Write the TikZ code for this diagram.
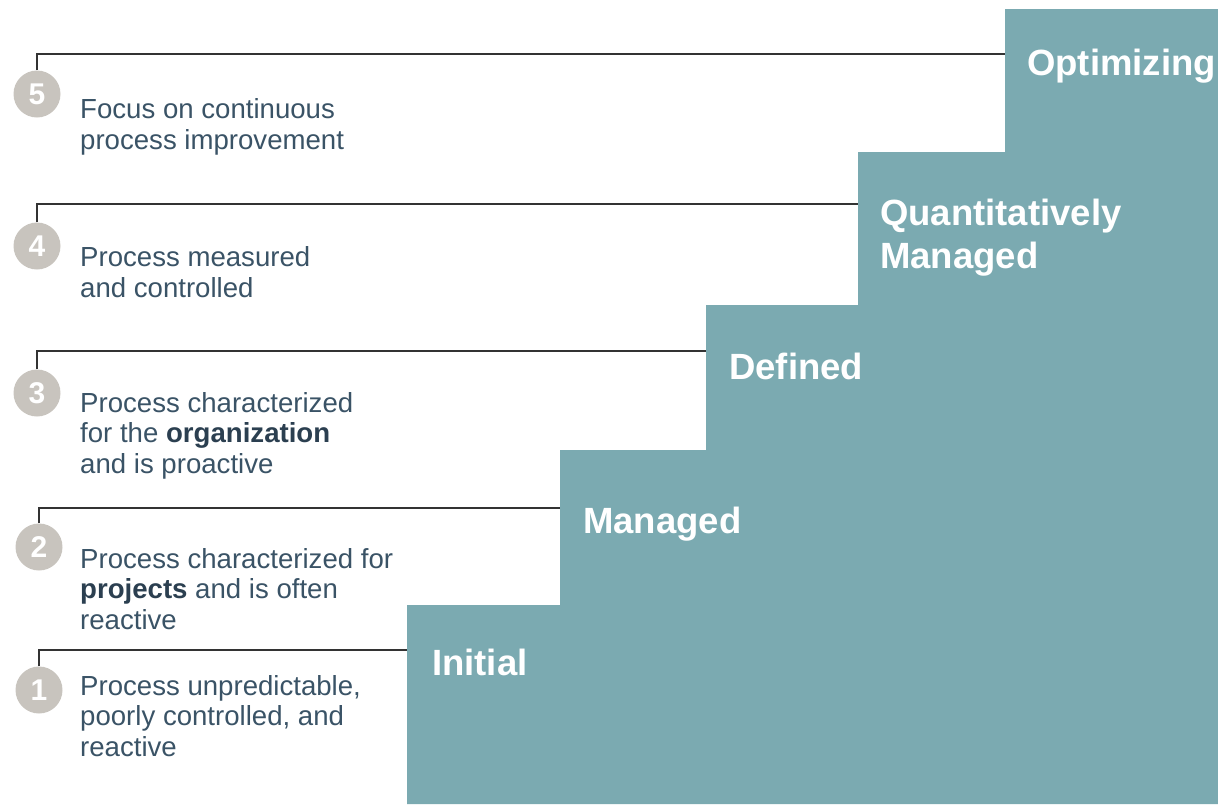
\documentclass[tikz,border=0pt]{standalone}
\usepackage{fontspec}
\setmainfont{Liberation Sans}
\definecolor{stepteal}{HTML}{7BAAB1}
\definecolor{circgrey}{HTML}{C8C4BE}
\definecolor{desctext}{HTML}{3A5366}
\definecolor{descbold}{HTML}{2B3F50}
\definecolor{linegrey}{HTML}{333333}
\tikzset{
  numcirc/.style={circle, fill=circgrey, minimum size=47pt, inner sep=0pt,
    text=white, font=\fontsize{30}{30}\selectfont\bfseries},
  desc/.style={anchor=base west, align=left, inner sep=0pt, text=desctext,
    font=\fontsize{27.6}{30.5}\selectfont},
  steplabel/.style={anchor=base west, align=left, inner sep=0pt, text=white,
    font=\fontsize{36.5}{43}\selectfont\bfseries},
  leader/.style={draw=linegrey, line width=2pt},
}
\begin{document}
\begin{tikzpicture}[x=1pt,y=-1pt]
\useasboundingbox (0,0) rectangle (1218,804);
% staircase
\fill[stepteal] (407,804) -- (407,605) -- (560,605) -- (560,450) -- (706,450)
  -- (706,305) -- (858,305) -- (858,152) -- (1005,152) -- (1005,9)
  -- (1218,9) -- (1218,804) -- cycle;
% step corner coordinates
\coordinate (s5) at (1005,54);
\coordinate (s4) at (858,204);
\coordinate (s3) at (706,351);
\coordinate (s2) at (560,508);
\coordinate (s1) at (407,650);
% circles
\node[numcirc] (c5) at (37,94) {5};
\node[numcirc] (c4) at (37,246) {4};
\node[numcirc] (c3) at (37,393) {3};
\node[numcirc] (c2) at (39,547) {2};
\node[numcirc] (c1) at (39,690) {1};
% leaders
\draw[leader] (c5.north) |- (s5);
\draw[leader] (c4.north) |- (s4);
\draw[leader] (c3.north) |- (s3);
\draw[leader] (c2.north) |- (s2);
\draw[leader] (c1.north) |- (s1);
% step labels (base = baseline of last line)
\node[steplabel] (l5) at (1027,75) {Optimizing};
\node[steplabel] (l4) at (880,268) {Quantitatively\\Managed};
\node[steplabel] (l3) at (729,379) {Defined};
\node[steplabel] (l2) at (583,533) {Managed};
\node[steplabel] (l1) at (432,675) {Initial};
% descriptions (base = baseline of last line)
\node[desc] (d5) at (80,149) {Focus on continuous\\process improvement};
\node[desc] (d4) at (80,297) {Process measured\\and controlled};
\node[desc] (d3) at (80,473) {Process characterized\\for the \textcolor{descbold}{\bfseries organization}\\and is proactive};
\node[desc] (d2) at (80,629) {Process characterized for\\\textcolor{descbold}{\bfseries projects} and is often\\reactive};
\node[desc] (d1) at (80,756) {Process unpredictable,\\poorly controlled, and\\reactive};
\end{tikzpicture}
\end{document}
